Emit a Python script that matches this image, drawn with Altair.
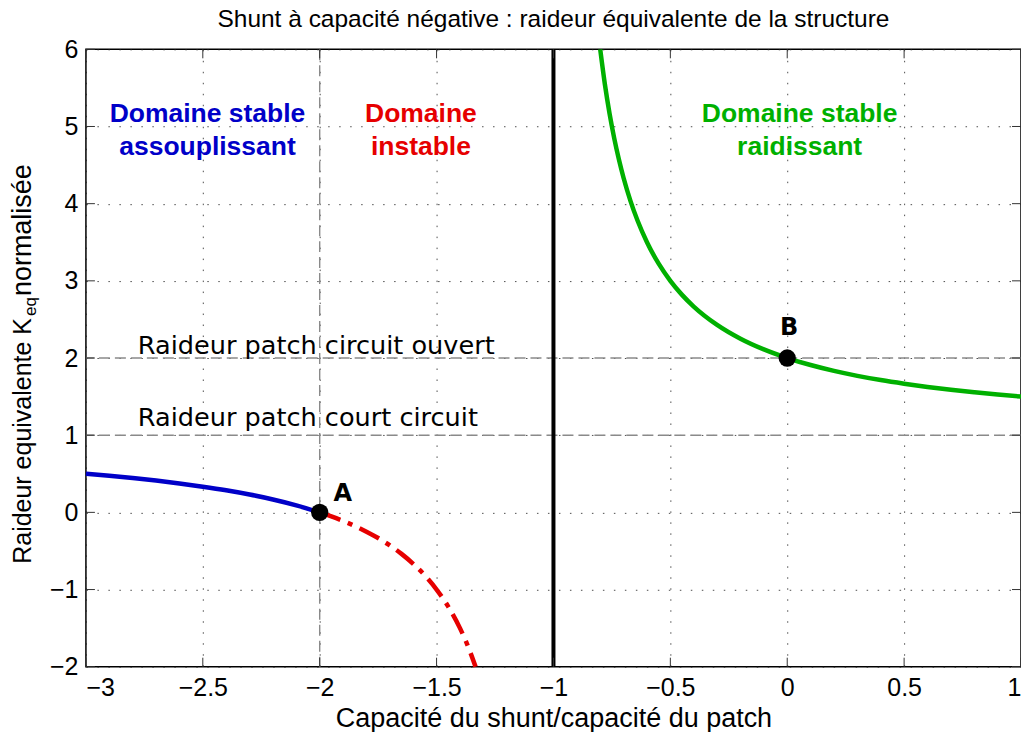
import altair as alt
import pandas as pd

W, H = 936, 618

# ---- data ----
x_blue = [-3.0, -2.9, -2.8, -2.7, -2.6, -2.5, -2.4, -2.3, -2.2, -2.1, -2.0]
y_blue = [0.5, 0.474, 0.444, 0.412, 0.375, 0.333, 0.286, 0.231, 0.167, 0.091, 0.0]

x_red = [-2.0, -1.95, -1.9, -1.85, -1.8, -1.75, -1.7, -1.65, -1.6, -1.55, -1.5, -1.45, -1.4, -1.37, -1.3333]
y_red = [0.0, -0.053, -0.111, -0.176, -0.25, -0.333, -0.429, -0.538, -0.667, -0.818, -1.0, -1.222, -1.5, -1.703, -2.0]

x_green = [-0.8, -0.78, -0.76, -0.74, -0.72, -0.7, -0.67, -0.64, -0.6, -0.55, -0.5, -0.45, -0.4,
           -0.3, -0.2, -0.1, 0.0, 0.1, 0.2, 0.3, 0.4, 0.5, 0.6, 0.7, 0.8, 0.9, 1.0]
y_green = [6.0, 5.545, 5.167, 4.846, 4.571, 4.333, 4.030, 3.778, 3.5, 3.222, 3.0, 2.818, 2.667,
           2.429, 2.25, 2.111, 2.0, 1.909, 1.833, 1.769, 1.714, 1.667, 1.625, 1.588, 1.556, 1.526, 1.5]

pt_x = [-2.0, 0.0]
pt_y = [0.0, 2.0]
pt_lab = ["A", "B"]

x_ticks = [-3, -2.5, -2, -1.5, -1, -0.5, 0, 0.5, 1]
y_ticks = [-2, -1, 0, 1, 2, 3, 4, 5, 6]

asym_x = [-1.0]
dash_x = [-2.0]
dash_y = [1.0, 2.0]

region_txt = ["Domaine stable", "assouplissant", "Domaine", "instable", "Domaine stable", "raidissant"]
region_x = [-2.48, -2.48, -1.567, -1.567, 0.053, 0.053]
region_y = [5.16, 4.74, 5.16, 4.74, 5.16, 4.74]
region_grp = ["b", "b", "r", "r", "g", "g"]

ref_txt = ["Raideur patch circuit ouvert", "Raideur patch court circuit"]
ref_x = [-2.778, -2.778]
ref_y = [2.052, 1.12]

title_txt = ["Shunt à capacité négative : raideur équivalente de la structure"]

BLUE = "#0000c8"
RED = "#e60000"
GREEN = "#00b000"

FONT = "Liberation Sans"

X = alt.X("x:Q", scale=alt.Scale(domain=[-3, 1], nice=False, zero=False),
          axis=alt.Axis(values=x_ticks, format="~g", title="Capacité du shunt/capacité du patch"))
Y = alt.Y("y:Q", scale=alt.Scale(domain=[-2, 6], nice=False, zero=False),
          axis=alt.Axis(values=y_ticks, format="~g", title=""))

blue_df = pd.DataFrame({"x": x_blue, "y": y_blue})
red_df = pd.DataFrame({"x": x_red, "y": y_red})
green_df = pd.DataFrame({"x": x_green, "y": y_green})
pt_df = pd.DataFrame({"x": pt_x, "y": pt_y, "t": pt_lab})
xt_df = pd.DataFrame({"x": x_ticks})
yt_df = pd.DataFrame({"y": y_ticks})
reg_df = pd.DataFrame({"x": region_x, "y": region_y, "t": region_txt, "g": region_grp})
ref_df = pd.DataFrame({"x": ref_x, "y": ref_y, "t": ref_txt})

vdash = alt.Chart(pd.DataFrame({"x": dash_x})).mark_rule(
    color="#8a8a8a", strokeWidth=1.4, strokeDash=[11, 5]).encode(x=X)
hdash = alt.Chart(pd.DataFrame({"y": dash_y})).mark_rule(
    color="#8a8a8a", strokeWidth=1.4, strokeDash=[11, 5]).encode(y=Y)

asym = alt.Chart(pd.DataFrame({"x": asym_x})).mark_rule(
    color="black", strokeWidth=4).encode(x=X)

# inward ticks
tick_color = "#333333"
xt_bot = alt.Chart(xt_df).mark_rule(color=tick_color, strokeWidth=1).encode(
    x=X, y=alt.value(H), y2=alt.value(H - 9))
xt_top = alt.Chart(xt_df).mark_rule(color=tick_color, strokeWidth=1).encode(
    x=X, y=alt.value(0), y2=alt.value(9))
yt_l = alt.Chart(yt_df).mark_rule(color=tick_color, strokeWidth=1).encode(
    y=Y, x=alt.value(0), x2=alt.value(9))
yt_r = alt.Chart(yt_df).mark_rule(color=tick_color, strokeWidth=1).encode(
    y=Y, x=alt.value(W - 9), x2=alt.value(W))

blue = alt.Chart(blue_df).mark_line(color=BLUE, strokeWidth=4.5, interpolate="monotone").encode(x=X, y=Y)
red = alt.Chart(red_df).mark_line(color=RED, strokeWidth=4.5, interpolate="monotone",
                                  strokeDash=[22, 8, 5, 8]).encode(x=X, y=Y)
green = alt.Chart(green_df).mark_line(color=GREEN, strokeWidth=4.5, interpolate="monotone",
                                      clip=True).encode(x=X, y=Y)

pts = alt.Chart(pt_df).mark_point(filled=True, color="black", size=300, opacity=1).encode(x=X, y=Y)
lab_a = alt.Chart(pt_df[pt_df.t == "A"]).mark_text(
    font="DejaVu Sans", fontWeight="bold", fontSize=24, dx=23, dy=-18, baseline="middle",
    color="black").encode(x=X, y=Y, text="t:N")
lab_b = alt.Chart(pt_df[pt_df.t == "B"]).mark_text(
    font="DejaVu Sans", fontWeight="bold", fontSize=24, dx=2, dy=-30, baseline="middle",
    color="black").encode(x=X, y=Y, text="t:N")

regions = alt.Chart(reg_df).mark_text(
    font=FONT, fontWeight="bold", fontSize=26.5, baseline="middle", align="center").encode(
    x=X, y=Y, text="t:N",
    color=alt.Color("g:N", scale=alt.Scale(domain=["b", "r", "g"], range=[BLUE, RED, GREEN]), legend=None))

refs = alt.Chart(ref_df).mark_text(
    font="DejaVu Sans", fontSize=25.6, align="left", baseline="alphabetic", color="black").encode(
    x=X, y=Y, text="t:N")

# chart title as a text mark
title = alt.Chart(pd.DataFrame({"t": title_txt})).mark_text(
    font=FONT, fontSize=24.5, align="center", baseline="middle", color="black").encode(
    x=alt.value(W / 2), y=alt.value(-29), text="t:N")

# y-axis title with subscript
yt1 = alt.Chart(pd.DataFrame({"t": ["Raideur equivalente K"]})).mark_text(
    font=FONT, fontSize=25, angle=270, align="right", baseline="alphabetic", color="black").encode(
    x=alt.value(-55), y=alt.value(269), text="t:N")
yt2 = alt.Chart(pd.DataFrame({"t": ["eq"]})).mark_text(
    font=FONT, fontSize=17, angle=270, align="left", baseline="alphabetic", color="black").encode(
    x=alt.value(-50), y=alt.value(267), text="t:N")
yt3 = alt.Chart(pd.DataFrame({"t": ["normalisée"]})).mark_text(
    font=FONT, fontSize=27, angle=270, align="left", baseline="alphabetic", color="black").encode(
    x=alt.value(-55), y=alt.value(247), text="t:N")

chart = alt.layer(
    vdash, hdash, asym, xt_bot, xt_top, yt_l, yt_r,
    blue, red, green, pts, lab_a, lab_b, regions, refs, title, yt1, yt2, yt3
).properties(
    width=W, height=H,
    autosize=alt.AutoSizeParams(type="none"),
    padding={"left": 78, "top": 41, "right": 0, "bottom": 65},
).configure_view(
    stroke="black", strokeWidth=1.5
).configure_axis(
    domain=False, ticks=False, grid=True, gridColor="#222222", gridDash=[1.5, 9.5],
    gridWidth=1, gridOpacity=0.8,
    labelFont=FONT, labelFontSize=25, labelColor="black",
    titleFont=FONT, titleFontSize=27, titleFontWeight="normal", titleColor="black",
).configure_axisX(
    labelPadding=9, titlePadding=5
).configure_axisY(
    labelPadding=8
)

chart.save("out.html", embed_options={"renderer": "svg", "actions": False})
